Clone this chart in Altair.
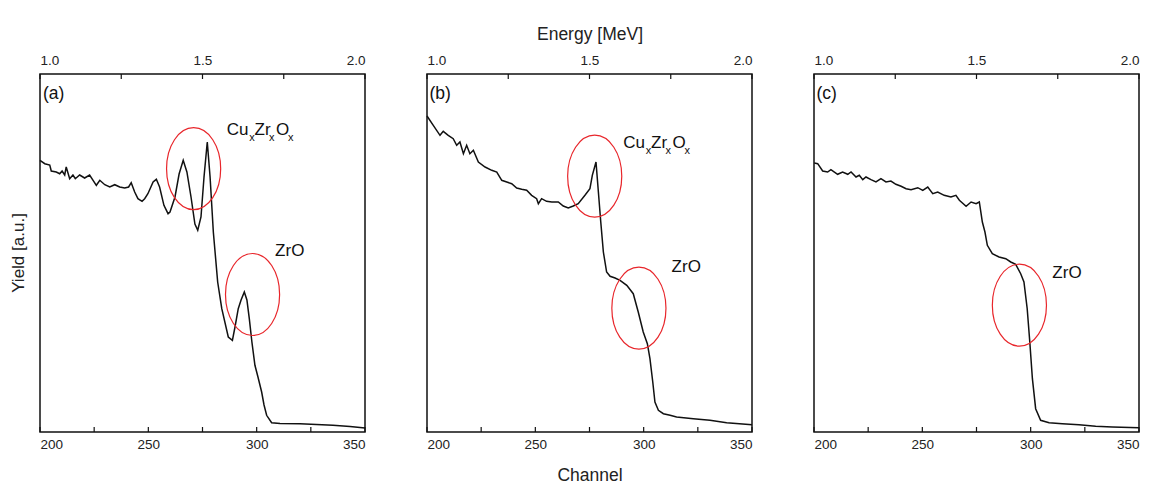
import altair as alt
import pandas as pd

# ---------------- data ----------------
CH_A = [200.0, 202.2, 204.5, 205.2, 207.5, 209.1, 210.2, 211.4, 212.1, 213.7, 215.2, 216.3, 218.3, 220.6,
        222.9, 224.5, 226.0, 227.6, 229.9, 232.2, 234.5, 236.8, 239.1, 240.9, 242.1, 243.7, 245.2, 247.1,
        248.3, 249.8, 252.2, 253.7, 255.2, 257.2, 259.1, 260.0, 262.3, 264.2, 266.1, 267.8, 269.7, 271.5,
        272.8, 274.3, 275.7, 277.2, 278.5, 280.0, 282.0, 283.9, 286.9, 288.8, 290.0, 291.5, 292.8, 294.3,
        295.5, 296.6, 297.8, 299.2, 300.6, 302.3, 303.4, 304.6, 306.9, 310.8, 320.0, 335.2, 343.1, 350.0]
Y_A = [271.7, 268.3, 267.0, 261.0, 260.0, 258.3, 261.0, 257.0, 265.0, 253.3, 257.0, 253.3, 257.0, 254.0,
       257.0, 251.7, 246.7, 251.7, 247.3, 245.0, 247.3, 245.0, 244.0, 245.0, 249.3, 240.0, 233.3, 230.7,
       233.3, 238.3, 250.0, 252.7, 245.0, 226.7, 218.3, 220.0, 235.0, 258.0, 271.7, 260.0, 235.0, 208.0,
       201.7, 215.0, 255.0, 290.0, 255.0, 200.0, 150.0, 123.3, 95.0, 91.7, 105.0, 123.3, 132.0, 140.0,
       132.0, 113.3, 90.0, 66.7, 55.0, 40.0, 27.0, 16.7, 9.3, 8.5, 8.3, 6.7, 5.5, 4.0]

CH_B = [200.0, 202.9, 206.0, 207.5, 209.8, 212.1, 213.7, 215.2, 216.8, 218.3, 219.8, 221.4, 223.7, 226.8,
        229.9, 232.2, 234.5, 236.8, 239.1, 241.4, 243.7, 246.0, 248.3, 250.6, 251.4, 252.9, 255.2, 257.6,
        260.6, 262.9, 265.2, 267.5, 269.8, 272.9, 275.2, 276.3, 278.0, 279.1, 280.2, 281.4, 282.9, 284.5,
        286.8, 289.1, 292.2, 295.2, 297.5, 299.8, 301.7, 302.9, 304.2, 305.2, 306.8, 309.1, 312.2, 315.2,
        322.9, 330.6, 338.3, 350.0]
Y_B = [316.0, 306.7, 296.7, 300.7, 296.7, 293.3, 286.7, 290.0, 278.3, 286.7, 278.3, 281.7, 270.0, 265.0,
       261.7, 260.0, 251.7, 250.0, 248.3, 244.0, 242.7, 241.7, 236.7, 233.3, 228.3, 233.3, 230.7, 230.0,
       230.0, 226.0, 224.0, 226.0, 228.3, 236.7, 243.3, 256.7, 270.0, 240.0, 210.0, 180.0, 160.0, 155.7,
       154.0, 151.7, 146.7, 138.3, 120.0, 100.0, 88.3, 73.3, 50.0, 30.0, 21.7, 18.3, 16.7, 15.0,
       13.3, 11.7, 9.3, 7.3]

CH_C = [200.1, 201.7, 204.0, 206.3, 207.8, 210.9, 213.2, 215.6, 217.1, 219.4, 220.9, 222.5, 224.0, 226.3,
        228.6, 230.9, 233.2, 235.5, 237.8, 240.2, 242.5, 244.8, 247.9, 250.2, 252.5, 254.8, 257.1, 260.1,
        263.2, 265.5, 267.1, 270.2, 272.5, 274.8, 276.3, 277.7, 278.9, 280.0, 282.3, 285.4, 288.5, 290.8,
        293.1, 295.4, 296.9, 298.4, 299.6, 300.8, 302.3, 304.6, 308.5, 314.6, 322.3, 330.0, 337.7, 350.0]
Y_C = [269.0, 268.3, 261.0, 260.0, 262.3, 257.7, 260.0, 257.7, 260.0, 255.0, 256.7, 252.3, 255.0, 252.3,
       250.0, 253.3, 250.0, 251.0, 247.7, 245.7, 243.3, 242.3, 244.3, 241.7, 245.0, 238.3, 240.0, 236.7,
       235.0, 236.7, 231.7, 225.7, 230.0, 228.3, 230.0, 210.0, 200.0, 186.7, 178.3, 175.0, 173.3, 170.0,
       167.7, 158.3, 150.0, 123.3, 90.0, 53.3, 23.3, 11.7, 9.3, 8.3, 7.3, 5.7, 5.0, 4.3]

# red ellipses (centres, in channel / yield units)
ELL_PANEL = ["a", "a", "b", "b", "c"]
ELL_CH = [270.9, 298.1, 277.4, 297.8, 294.8]
ELL_Y = [263.3, 137.5, 255.8, 123.8, 126.8]

# text annotations
TAG_PANEL = ["a", "b", "c"]
TAG_TEXT = ["(a)", "(b)", "(c)"]
TAG_CH = [201.4, 201.1, 201.1]
TAG_Y = [338.0, 338.0, 338.0]

ZRO_PANEL = ["a", "b", "c"]
ZRO_CH = [308.5, 312.9, 310.0]
ZRO_Y = [176.0, 160.0, 154.3]

FORM_PANEL = ["a", "b"]
FORM_CH = [286.2, 290.6]
FORM_Y = [296.7, 284.0]
FORM_PARTS = ["Cu", "x", "Zr", "x", "O", "x"]
FORM_DX = [0, 22.5, 27.8, 42.2, 49.2, 61.2]

BOTTOM_TICKS = [200, 225, 250, 275, 300, 325, 350]
BOTTOM_LABELS = [200, 250, 300, 350]
ENERGY_TICKS = [1.0, 1.25, 1.5, 1.75, 2.0]

Y_TITLE = "Yield [a.u.]"
X_TITLE = "Channel"
TOP_TITLE = "Energy [MeV]"

# ---------------- styling ----------------
FONT = "Liberation Sans"
W, H = 325, 358
RED = "#e8262b"
INK = "#111111"
ELLIPSE_PATH = ("M 0.66 0 C 0.66 0.5523 0.3645 1 0 1 C -0.3645 1 -0.66 0.5523 -0.66 0 "
                "C -0.66 -0.5523 -0.3645 -1 0 -1 C 0.3645 -1 0.66 -0.5523 0.66 0 Z")

x_scale = alt.Scale(domain=[200, 350], nice=False, zero=False)
y_scale = alt.Scale(domain=[0, H], nice=False, zero=True)


def panel(key, ch, yv, first=False, middle=False):
    df = pd.DataFrame({"ch": ch, "y": yv})

    bkw = dict(orient="bottom", values=BOTTOM_LABELS, format="d", ticks=False, tickSize=0,
               domain=False, grid=False, labelFont=FONT, labelFontSize=13.5, labelColor="#222",
               labelPadding=5)
    if middle:
        bkw.update(title=X_TITLE, titleFont=FONT, titleFontSize=17.5, titleFontWeight="normal",
                   titleColor="#222", titlePadding=16)
    else:
        bkw.update(title=None)
    bottom_axis = alt.Axis(**bkw)

    tkw = dict(orient="top", values=[200, 275, 350],
               labelExpr="format(1 + (datum.value - 200) / 150, '.1f')",
               ticks=False, tickSize=0, domain=False, grid=False, labelFont=FONT,
               labelFontSize=13.5, labelColor="#222", labelPadding=7)
    if middle:
        tkw.update(title=TOP_TITLE, titleFont=FONT, titleFontSize=17.5, titleFontWeight="normal",
                   titleColor="#222", titlePadding=10)
    else:
        tkw.update(title=None)
    top_axis = alt.Axis(**tkw)

    line = alt.Chart(df).mark_line(color=INK, strokeWidth=1.5).encode(
        x=alt.X("ch:Q", scale=x_scale, axis=bottom_axis),
        y=alt.Y("y:Q", scale=y_scale, axis=None),
        order="ch:Q",
    )

    top = alt.Chart(pd.DataFrame({"energy": ENERGY_TICKS})).transform_calculate(
        ch="200 + (datum.energy - 1) * 150"
    ).mark_tick(color=INK, thickness=1.2, size=5, opacity=1).encode(
        x=alt.X("ch:Q", scale=x_scale, axis=top_axis),
        y=alt.value(2.5),
    )

    bottom = alt.Chart(pd.DataFrame({"ch": BOTTOM_TICKS})).mark_tick(
        color=INK, thickness=1.2, size=5, opacity=1
    ).encode(
        x=alt.X("ch:Q", scale=x_scale, axis=None),
        y=alt.value(H - 2.5),
    )

    ell_df = pd.DataFrame({"p": ELL_PANEL, "ch": ELL_CH, "y": ELL_Y})
    ell = alt.Chart(ell_df).transform_filter(alt.datum.p == key).mark_point(
        shape=ELLIPSE_PATH, size=6724, filled=False, color=RED, stroke=RED, strokeWidth=1.2, opacity=1
    ).encode(
        x=alt.X("ch:Q", scale=x_scale, axis=None),
        y=alt.Y("y:Q", scale=y_scale, axis=None),
    )

    tag_df = pd.DataFrame({"p": TAG_PANEL, "t": TAG_TEXT, "ch": TAG_CH, "y": TAG_Y})
    tag = alt.Chart(tag_df).transform_filter(alt.datum.p == key).mark_text(
        align="left", baseline="middle", font=FONT, fontSize=17.5, color=INK
    ).encode(
        x=alt.X("ch:Q", scale=x_scale, axis=None),
        y=alt.Y("y:Q", scale=y_scale, axis=None),
        text="t:N",
    )

    zro_df = pd.DataFrame({"p": ZRO_PANEL, "ch": ZRO_CH, "y": ZRO_Y})
    zro = alt.Chart(zro_df).transform_filter(alt.datum.p == key).mark_text(
        align="left", baseline="alphabetic", font=FONT, fontSize=17, color=INK
    ).encode(
        x=alt.X("ch:Q", scale=x_scale, axis=None),
        y=alt.Y("y:Q", scale=y_scale, axis=None),
        text=alt.value("ZrO"),
    )

    layers = [line, top, bottom, ell, tag, zro]

    if key in FORM_PANEL:
        fdf = pd.DataFrame({"p": FORM_PANEL, "ch": FORM_CH, "y": FORM_Y})
        for part, dx in zip(FORM_PARTS, FORM_DX):
            sub = part == "x"
            layers.append(
                alt.Chart(fdf).transform_filter(alt.datum.p == key).mark_text(
                    align="left", baseline="alphabetic", font=FONT,
                    fontSize=11 if sub else 17, color=INK, dx=dx, dy=6 if sub else 0
                ).encode(
                    x=alt.X("ch:Q", scale=x_scale, axis=None),
                    y=alt.Y("y:Q", scale=y_scale, axis=None),
                    text=alt.value(part),
                )
            )

    if first:
        ytitle = alt.Chart(pd.DataFrame({"t": [Y_TITLE]})).mark_text(
            angle=270, align="center", baseline="middle", font=FONT, fontSize=17, color="#222"
        ).encode(
            x=alt.value(-21),
            y=alt.value(H / 2),
            text="t:N",
        )
        layers.append(ytitle)

    return alt.layer(*layers).properties(width=W, height=H)


pa = panel("a", CH_A, Y_A, first=True)
pb = panel("b", CH_B, Y_B, middle=True)
pc = panel("c", CH_C, Y_C)

chart = alt.hconcat(pa, pb, pc, spacing=62, bounds="flush").properties(
    padding={"left": 9, "top": 24, "right": 5, "bottom": 5},
    background="white",
).configure(font=FONT).configure_view(stroke=INK, strokeWidth=1.5)

chart.save("out.html", embed_options={"renderer": "svg", "actions": False})
